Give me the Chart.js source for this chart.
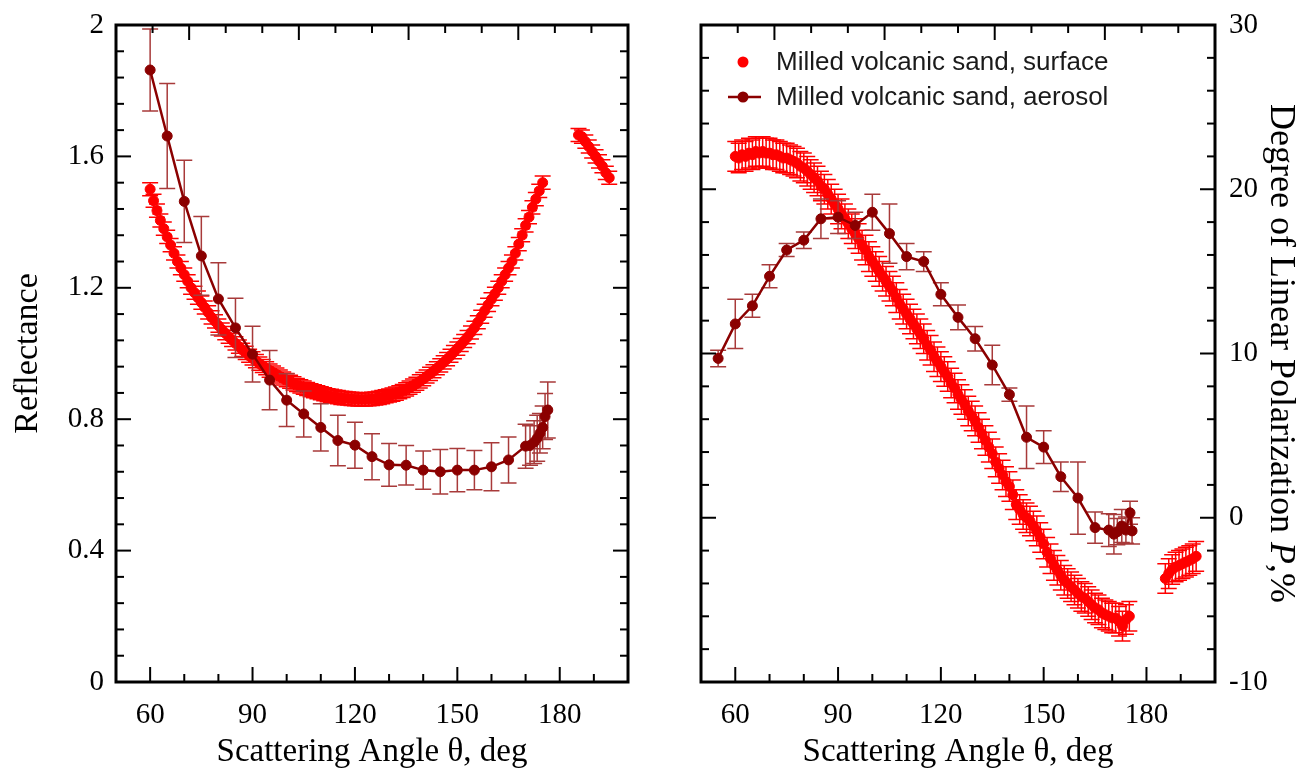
<!DOCTYPE html>
<html>
<head>
<meta charset="utf-8">
<script src="https://cdn.jsdelivr.net/npm/chart.js@4"></script>
<style>
  body { margin: 0; background: #fff; }
  #left { position: absolute; left: 0; top: 0; }
  #right { position: absolute; left: 650px; top: 0; }
</style>
</head>
<body>
<canvas id="left" width="660" height="780"></canvas>
<canvas id="right" width="652" height="780"></canvas>
<script>
// ---- data ----
// surface measurements (same angles for both panels)
const surfAngles = [60, 61, 62, 63, 64, 65, 66, 67, 68, 69, 70, 71, 72, 73, 74, 75, 76, 77, 78, 79,
  80, 81, 82, 83, 84, 85, 86, 87, 88, 89, 90, 91, 92, 93, 94, 95, 96, 97, 98, 99,
  100, 101, 102, 103, 104, 105, 106, 107, 108, 109, 110, 111, 112, 113, 114, 115, 116, 117, 118, 119,
  120, 121, 122, 123, 124, 125, 126, 127, 128, 129, 130, 131, 132, 133, 134, 135, 136, 137, 138, 139,
  140, 141, 142, 143, 144, 145, 146, 147, 148, 149, 150, 151, 152, 153, 154, 155, 156, 157, 158, 159,
  160, 161, 162, 163, 164, 165, 166, 167, 168, 169, 170, 171, 172, 173, 174, 175,
  185.5, 186.5, 187.5, 188.5, 189.5, 190.5, 191.5, 192.5, 193.5, 194.5];
const surfRefl = [1.50, 1.465, 1.435, 1.405, 1.38, 1.355, 1.33, 1.305, 1.28, 1.26, 1.24, 1.22, 1.20, 1.185, 1.17, 1.155, 1.14, 1.125, 1.11, 1.098,
  1.085, 1.073, 1.062, 1.051, 1.041, 1.031, 1.021, 1.011, 1.002, 0.993, 0.985, 0.977, 0.969, 0.962, 0.955, 0.948, 0.942, 0.936, 0.930, 0.924,
  0.919, 0.914, 0.909, 0.904, 0.900, 0.896, 0.892, 0.888, 0.885, 0.882, 0.879, 0.876, 0.873, 0.871, 0.869, 0.867, 0.865, 0.864, 0.863, 0.862,
  0.861, 0.860, 0.860, 0.860, 0.861, 0.862, 0.863, 0.865, 0.867, 0.870, 0.872, 0.875, 0.878, 0.882, 0.886, 0.891, 0.896, 0.902, 0.908, 0.915,
  0.922, 0.930, 0.938, 0.946, 0.955, 0.964, 0.973, 0.983, 0.993, 1.004, 1.015, 1.026, 1.038, 1.050, 1.064, 1.078, 1.095, 1.112, 1.130, 1.148,
  1.165, 1.182, 1.200, 1.220, 1.240, 1.260, 1.280, 1.305, 1.333, 1.360, 1.390, 1.415, 1.445, 1.470, 1.495, 1.520,
  1.665, 1.66, 1.645, 1.63, 1.615, 1.60, 1.585, 1.57, 1.55, 1.535];
const surfPol = [22.0, 21.9, 22.1, 22.0, 22.2, 22.1, 22.3, 22.2, 22.3, 22.2, 22.2, 22.1, 22.1, 22.0, 21.9, 21.9, 21.8, 21.7, 21.6, 21.4,
  21.3, 21.1, 20.9, 20.7, 20.5, 20.2, 20.0, 19.7, 19.4, 19.1, 18.8, 18.5, 18.2, 17.9, 17.6, 17.3, 17.0, 16.6, 16.3, 15.9,
  15.6, 15.3, 15.0, 14.7, 14.4, 14.1, 13.8, 13.4, 13.0, 12.7, 12.4, 12.1, 11.8, 11.5, 11.2, 10.9, 10.5, 10.2, 9.8, 9.5,
  9.2, 8.9, 8.6, 8.2, 7.9, 7.5, 7.2, 6.9, 6.5, 6.2, 5.9, 5.5, 5.1, 4.7, 4.3, 3.9, 3.4, 3.0, 2.6, 2.2,
  1.9, 1.4, 0.8, 0.5, 0.2, 0.0, -0.2, -0.5, -0.8, -1.2, -1.6, -2.1, -2.5, -2.9, -3.2, -3.5, -3.8, -4.0, -4.2, -4.4,
  -4.6, -4.8, -4.9, -5.1, -5.3, -5.5, -5.6, -5.8, -5.9, -6.0, -6.1, -6.1, -6.3, -6.6, -6.2, -6.0,
  -3.7, -3.4, -3.15, -3.0, -2.9, -2.8, -2.7, -2.6, -2.5, -2.35];
const surfReflErr = 0.02;
const surfPolErr = 0.9;

// aerosol measurements
const aeroReflAngles = [60, 65, 70, 75, 80, 85, 90, 95, 100, 105, 110, 115, 120, 125, 130, 135, 140, 145, 150, 155,
  160, 165, 170, 171.3, 172.5, 173.4, 174.2, 175, 175.7, 176.5];
const aeroRefl = [1.863, 1.662, 1.463, 1.297, 1.166, 1.078, 0.998, 0.919, 0.858, 0.816, 0.775, 0.735, 0.721, 0.686, 0.661, 0.66, 0.645, 0.64, 0.645, 0.645,
  0.655, 0.676, 0.718, 0.72, 0.73, 0.742, 0.757, 0.775, 0.808, 0.828];
const aeroReflErr = [0.125, 0.16, 0.125, 0.12, 0.11, 0.09, 0.085, 0.09, 0.08, 0.07, 0.072, 0.077, 0.07, 0.07, 0.065, 0.06, 0.058, 0.068, 0.066, 0.06,
  0.073, 0.07, 0.067, 0.06, 0.065, 0.07, 0.06, 0.065, 0.07, 0.085];

const aeroPolAngles = [55, 60, 65, 70, 75, 80, 85, 90, 95, 100, 105, 110, 115, 120, 125, 130, 135, 140, 145, 150,
  155, 160, 165, 169, 170.5, 171.5, 172.8, 174, 175.2, 175.8];
const aeroPol = [9.7, 11.8, 12.9, 14.7, 16.3, 16.9, 18.2, 18.3, 17.8, 18.6, 17.3, 15.9, 15.6, 13.6, 12.2, 10.9, 9.3, 7.5, 4.9, 4.3,
  2.5, 1.2, -0.6, -0.75, -1.0, -0.85, -0.5, -0.75, 0.3, -0.8];
const aeroPolErr = [0.5, 1.5, 0.7, 0.7, 0.4, 0.5, 1.2, 1.0, 0.8, 1.1, 1.8, 0.8, 0.6, 0.7, 0.75, 0.75, 1.2, 0.4, 1.9, 1.0,
  0.9, 2.2, 0.95, 1.0, 1.2, 0.8, 1.0, 0.8, 0.7, 0.8];

// ticks
const xMajor = [60, 90, 120, 150, 180];
const xMinor = [70, 80, 100, 110, 130, 140, 160, 170, 190];
const topTicks = [1, 2, 3, 4, 5, 6, 7, 8, 9, 10, 11, 12, 13];
const topMajor = [2, 5, 8, 11];
const reflMajor = [0, 0.4, 0.8, 1.2, 1.6, 2];
const reflMinor = [0.08, 0.16, 0.24, 0.32, 0.48, 0.56, 0.64, 0.72, 0.88, 0.96, 1.04, 1.12, 1.28, 1.36, 1.44, 1.52, 1.68, 1.76, 1.84, 1.92];
const polMajor = [-10, 0, 10, 20, 30];
const polMinor = [-8, -6, -4, -2, 2, 4, 6, 8, 12, 14, 16, 18, 22, 24, 26, 28];

const labelSurface = 'Milled volcanic sand, surface';
const labelAerosol = 'Milled volcanic sand, aerosol';
const xTitle = 'Scattering Angle \u03b8, deg';

const RED = '#ff0000';
const DARK = '#8b0000';
const DARK_ERR = '#a83a3a';
const SERIF = "'Liberation Serif', 'Times New Roman', serif";

// ---- plugins ----
// vertical error bars with caps, drawn under each dataset's points
const errorBars = {
  id: 'errorBars',
  beforeDatasetDraw(chart, args) {
    const ds = chart.data.datasets[args.index];
    if (ds.errors === undefined) return;
    const { ctx, chartArea: a, scales: { x, y } } = chart;
    ctx.save();
    ctx.beginPath();
    ctx.rect(a.left, a.top, a.right - a.left, a.bottom - a.top);
    ctx.clip();
    ctx.strokeStyle = ds.errorColor;
    ctx.lineWidth = 1.5;
    ds.data.forEach((pt, i) => {
      const e = Array.isArray(ds.errors) ? ds.errors[i] : ds.errors;
      const px = x.getPixelForValue(pt.x);
      const y1 = y.getPixelForValue(pt.y + e);
      const y2 = y.getPixelForValue(pt.y - e);
      ctx.beginPath();
      ctx.moveTo(px, y1); ctx.lineTo(px, y2);
      ctx.moveTo(px - 8, y1); ctx.lineTo(px + 8, y1);
      ctx.moveTo(px - 8, y2); ctx.lineTo(px + 8, y2);
      ctx.stroke();
    });
    ctx.restore();
  }
};

// box frame with inward ticks on all four sides
const frameTicks = {
  id: 'frameTicks',
  afterDraw(chart, args, opts) {
    const { ctx, chartArea: a, scales } = chart;
    const x = scales.x, y = scales.y, t = scales.xTop;
    const seg = (x1, y1, x2, y2) => { ctx.beginPath(); ctx.moveTo(x1, y1); ctx.lineTo(x2, y2); ctx.stroke(); };
    ctx.save();
    ctx.strokeStyle = '#000';
    ctx.lineWidth = 2;
    xMajor.concat(xMinor).forEach(v => {
      const p = x.getPixelForValue(v);
      seg(p, a.bottom, p, a.bottom - (xMajor.includes(v) ? 15 : 8));
    });
    topTicks.forEach(v => {
      const p = t.getPixelForValue(v);
      seg(p, a.top, p, a.top + (topMajor.includes(v) ? 15 : 8));
    });
    opts.yMajor.concat(opts.yMinor).forEach(v => {
      const p = y.getPixelForValue(v);
      const len = opts.yMajor.includes(v) ? 15 : 8;
      seg(a.left, p, a.left + len, p);
      seg(a.right, p, a.right - len, p);
    });
    ctx.lineWidth = 3;
    ctx.strokeRect(a.left, a.top, a.right - a.left, a.bottom - a.top);
    ctx.restore();
  }
};

// legend inside the plot area, top-left
const insetLegend = {
  id: 'insetLegend',
  afterDraw(chart, args, opts) {
    if (!opts.show) return;
    const { ctx, chartArea: a } = chart;
    ctx.save();
    chart.data.datasets.forEach((ds, i) => {
      const cy = a.top + 37 + i * 35;
      const cx = a.left + 42;
      if (ds.showLine) {
        ctx.strokeStyle = ds.borderColor;
        ctx.lineWidth = 2.5;
        ctx.beginPath(); ctx.moveTo(cx - 15, cy); ctx.lineTo(cx + 18, cy); ctx.stroke();
      }
      ctx.fillStyle = ds.pointBackgroundColor;
      ctx.beginPath(); ctx.arc(cx, cy, 5.5, 0, Math.PI * 2); ctx.fill();
      ctx.fillStyle = '#1a1a1a';
      ctx.font = "26px 'Liberation Sans', Arial, sans-serif";
      ctx.textBaseline = 'middle';
      ctx.textAlign = 'left';
      ctx.fillText(ds.label, a.left + 75, cy + 1);
    });
    ctx.restore();
  }
};

// right-hand axis title with italic P
const polTitle = {
  id: 'polTitle',
  afterDraw(chart, args, opts) {
    if (!opts.show) return;
    const { ctx, chartArea: a } = chart;
    const parts = [
      ['Degree of Linear Polarization ', 'normal'],
      ['P', 'italic'],
      [',%', 'normal']
    ];
    ctx.save();
    ctx.translate(chart.width - 22, (a.top + a.bottom) / 2);
    ctx.rotate(Math.PI / 2);
    ctx.fillStyle = '#000';
    ctx.textBaseline = 'middle';
    ctx.textAlign = 'left';
    const fontOf = s => s + " 36px " + SERIF;
    let total = 0;
    parts.forEach(p => { ctx.font = fontOf(p[1]); total += ctx.measureText(p[0]).width; });
    let xPos = -total / 2;
    parts.forEach(p => {
      ctx.font = fontOf(p[1]);
      ctx.fillText(p[0], xPos, 0);
      xPos += ctx.measureText(p[0]).width;
    });
    ctx.restore();
  }
};

function points(xs, ys) {
  return xs.map((v, i) => ({ x: v, y: ys[i] }));
}

function xScale() {
  return {
    type: 'linear', position: 'bottom', min: 50, max: 200,
    afterBuildTicks: s => { s.ticks = xMajor.map(v => ({ value: v })); },
    afterFit: s => { s.height = 98; },
    grid: { display: false, drawTicks: false },
    border: { display: false },
    ticks: { color: '#000', padding: 16, font: { family: SERIF, size: 29 }, maxRotation: 0, callback: v => String(v) },
    title: { display: true, text: xTitle, color: '#000', font: { family: SERIF, size: 33 }, padding: { top: 0, bottom: 8 } }
  };
}

function topScale() {
  return {
    type: 'linear', position: 'top', min: 0, max: 14,
    afterFit: s => { s.height = 0; },
    grid: { display: false, drawTicks: false },
    border: { display: false },
    ticks: { display: false }
  };
}

// fixed width for a y axis; label overhang must not push the plot area down
function fixY(width) {
  return s => { s.width = width; s.paddingTop = 0; s.paddingBottom = 0; };
}

// ---- left panel: reflectance ----
new Chart(document.getElementById('left'), {
  type: 'scatter',
  data: {
    datasets: [
      {
        label: labelSurface,
        data: points(surfAngles, surfRefl),
        errors: surfReflErr, errorColor: RED,
        showLine: false, order: 2,
        pointRadius: 5, pointBorderWidth: 1,
        pointBackgroundColor: RED, pointBorderColor: RED
      },
      {
        label: labelAerosol,
        data: points(aeroReflAngles, aeroRefl),
        errors: aeroReflErr, errorColor: DARK_ERR,
        showLine: true, order: 1,
        borderColor: DARK, borderWidth: 2.5,
        pointRadius: 5, pointBorderWidth: 1,
        pointBackgroundColor: DARK, pointBorderColor: DARK
      }
    ]
  },
  options: {
    responsive: false,
    animation: false,
    layout: { padding: { top: 25, right: 32, left: 0, bottom: 0 } },
    plugins: {
      legend: { display: false },
      tooltip: { enabled: false },
      frameTicks: { yMajor: reflMajor, yMinor: reflMinor },
      insetLegend: { show: false },
      polTitle: { show: false }
    },
    scales: {
      x: xScale(),
      xTop: topScale(),
      y: {
        type: 'linear', position: 'left', min: 0, max: 2,
        afterBuildTicks: s => { s.ticks = reflMajor.map(v => ({ value: v })); },
        afterFit: fixY(116),
        grid: { display: false, drawTicks: false },
        border: { display: false },
        ticks: { color: '#000', padding: 12, font: { family: SERIF, size: 29 }, callback: v => String(v) },
        title: { display: true, text: 'Reflectance', color: '#000', font: { family: SERIF, size: 34 }, padding: { top: 8, bottom: 0 } }
      }
    }
  },
  plugins: [errorBars, frameTicks, insetLegend, polTitle]
});

// ---- right panel: degree of linear polarization ----
new Chart(document.getElementById('right'), {
  type: 'scatter',
  data: {
    datasets: [
      {
        label: labelSurface,
        data: points(surfAngles, surfPol),
        errors: surfPolErr, errorColor: RED,
        showLine: false, order: 2,
        pointRadius: 5, pointBorderWidth: 1,
        pointBackgroundColor: RED, pointBorderColor: RED
      },
      {
        label: labelAerosol,
        data: points(aeroPolAngles, aeroPol),
        errors: aeroPolErr, errorColor: DARK_ERR,
        showLine: true, order: 1,
        borderColor: DARK, borderWidth: 2.5,
        pointRadius: 5, pointBorderWidth: 1,
        pointBackgroundColor: DARK, pointBorderColor: DARK
      }
    ]
  },
  options: {
    responsive: false,
    animation: false,
    layout: { padding: { top: 25, right: 0, left: 51, bottom: 0 } },
    plugins: {
      legend: { display: false },
      tooltip: { enabled: false },
      frameTicks: { yMajor: polMajor, yMinor: polMinor },
      insetLegend: { show: true },
      polTitle: { show: true }
    },
    scales: {
      x: xScale(),
      xTop: topScale(),
      y: {
        type: 'linear', position: 'right', min: -10, max: 30,
        afterBuildTicks: s => { s.ticks = polMajor.map(v => ({ value: v })); },
        afterFit: fixY(87),
        grid: { display: false, drawTicks: false },
        border: { display: false },
        ticks: { color: '#000', padding: 14, font: { family: SERIF, size: 29 }, callback: v => String(v) },
        title: { display: false }
      }
    }
  },
  plugins: [errorBars, frameTicks, insetLegend, polTitle]
});
</script>
</body>
</html>
